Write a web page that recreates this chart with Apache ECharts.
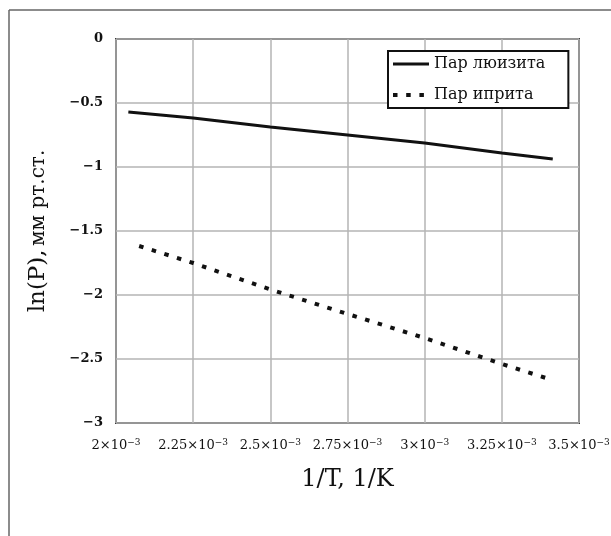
<!DOCTYPE html>
<html>
	<head>
		<meta charset="utf-8" />
		<title>ln(P) от 1/T</title>
		<script src="https://cdn.jsdelivr.net/npm/echarts@6/dist/echarts.min.js"></script>
		<style>
			* {
				margin: 0;
				padding: 0;
				box-sizing: border-box;
			}
			body {
				background: #fff;
			}
		</style>
	</head>
	<body>
		<div id="main" style="width: 611px; height: 536px"></div>
		<script>
			// данные, 1/T в единицах 10^-3 1/K
			var tLewisite = [2.04, 2.25, 2.5, 2.75, 3.0, 3.25, 3.415];
			var lnLewisite = [-0.57, -0.617, -0.688, -0.75, -0.813, -0.89, -0.938];
			var tMustard = [2.075, 2.25, 2.5, 2.75, 3.0, 3.25, 3.413];
			var lnMustard = [-1.617, -1.75, -1.957, -2.148, -2.336, -2.539, -2.664];
			var seriesNames = ['Пар люизита', 'Пар иприта'];
			var xTickLabels = ['2', '2.25', '2.5', '2.75', '3', '3.25', '3.5'];
			var yTickLabels = ['−3', '−2.5', '−2', '−1.5', '−1', '−0.5', '0'];

			var serif = 'DejaVu Serif';
			var solidLine = {color: '#111', width: 3};
			var dotLine = {color: '#111', width: 4, type: [4.5, 8.7], cap: 'butt'};

			function pairs(xs, ys) {
				return xs.map(function (x, i) {
					return [x, ys[i]];
				});
			}

			var myChart = echarts.init(document.getElementById('main'));
			var option = {
				animation: false,
				backgroundColor: '#fff',
				graphic: [
					{
						type: 'line',
						shape: {x1: 9, y1: 10, x2: 611, y2: 10},
						style: {stroke: '#666', lineWidth: 1.5},
					},
					{
						type: 'line',
						shape: {x1: 9, y1: 10, x2: 9, y2: 536},
						style: {stroke: '#666', lineWidth: 1.5},
					},
				],
				grid: {
					left: 116,
					right: 32,
					top: 39,
					bottom: 113,
					show: true,
					borderColor: '#3a3a3a',
					borderWidth: 2,
					outerBoundsMode: 'none',
				},
				legend: {
					orient: 'vertical',
					left: 388,
					top: 51,
					data: [
						{name: seriesNames[0], lineStyle: solidLine},
						{name: seriesNames[1], lineStyle: dotLine},
					],
					backgroundColor: '#fff',
					borderColor: '#111',
					borderWidth: 2,
					borderRadius: 0,
					padding: [5, 23, 5, 3],
					itemWidth: 36,
					itemHeight: 14,
					itemGap: 15,
					itemStyle: {color: 'transparent', borderWidth: 0},
					textStyle: {fontFamily: serif, fontSize: 16, color: '#111'},
				},
				xAxis: {
					type: 'value',
					min: 2,
					max: 3.5,
					interval: 0.25,
					name: '1/T, 1/K',
					nameLocation: 'middle',
					nameGap: 45,
					nameTextStyle: {fontFamily: serif, fontSize: 24, color: '#111'},
					axisLine: {show: false},
					axisTick: {show: false},
					splitLine: {lineStyle: {color: '#b4b4b4', width: 1.5}},
					axisLabel: {
						margin: 15,
						formatter: function (v) {
							var i = Math.round((v - 2) / 0.25);
							return '{b|' + xTickLabels[i] + '×10}{s|−3}';
						},
						rich: {
							b: {fontFamily: serif, fontSize: 13, color: '#111'},
							s: {fontFamily: serif, fontSize: 9, color: '#111', padding: [0, 0, 7, 0]},
						},
					},
				},
				yAxis: {
					type: 'value',
					min: -3,
					max: 0,
					interval: 0.5,
					name: '{a|ln(P),} {b|мм рт.ст.}',
					nameLocation: 'middle',
					nameGap: 66,
					nameTextStyle: {
						rich: {
							a: {fontFamily: serif, fontSize: 23, color: '#111'},
							b: {fontFamily: serif, fontSize: 20, color: '#111'},
						},
					},
					axisLine: {show: false},
					axisTick: {show: false},
					splitLine: {lineStyle: {color: '#b4b4b4', width: 1.5}},
					axisLabel: {
						margin: 13,
						fontFamily: serif,
						fontSize: 13,
						fontWeight: 'bold',
						color: '#111',
						formatter: function (v) {
							return yTickLabels[Math.round((v + 3) / 0.5)];
						},
					},
				},
				series: [
					{
						name: seriesNames[0],
						type: 'line',
						showSymbol: false,
						symbol: 'none',
						data: pairs(tLewisite, lnLewisite),
						lineStyle: solidLine,
						itemStyle: {color: '#111'},
					},
					{
						name: seriesNames[1],
						type: 'line',
						showSymbol: false,
						symbol: 'none',
						data: pairs(tMustard, lnMustard),
						lineStyle: dotLine,
						itemStyle: {color: '#111'},
					},
				],
			};
			option && myChart.setOption(option);
		</script>
	</body>
</html>
